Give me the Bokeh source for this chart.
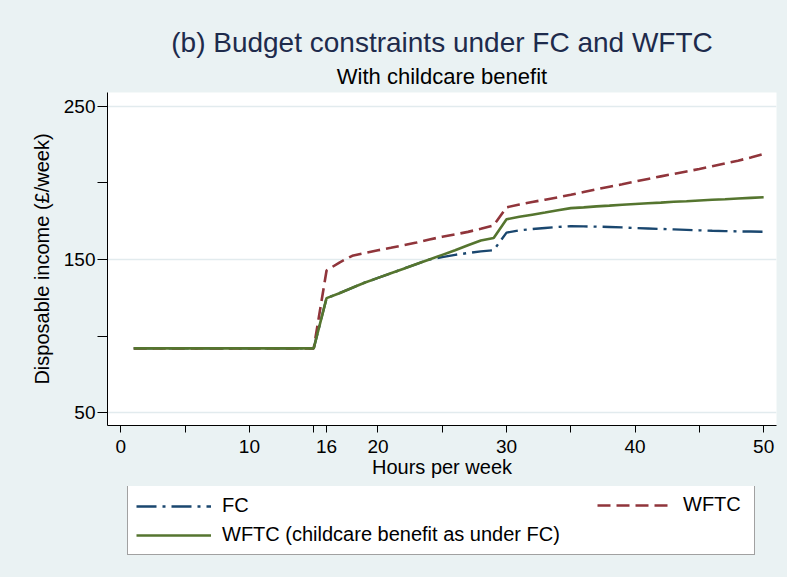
from bokeh.plotting import figure
from bokeh.layouts import column
from bokeh.models import FixedTicker, Legend, LegendItem, Title
from bokeh.embed import file_html
from bokeh.resources import INLINE

# ---- data ----
hours = list(range(1, 51))

fc = [92] * 15 + [
    124.8, 128.0, 131.5, 135.0, 138.0, 141.0, 144.0, 147.0, 150.0,      # 16-24
    151.5, 153.0, 154.2, 155.3, 156.0,                                  # 25-29
    167.5, 169.0, 169.8, 170.5, 171.2, 171.7, 171.6, 171.4, 171.2, 170.9,  # 30-39
    170.5, 170.2, 169.9, 169.6, 169.3, 169.0, 168.7, 168.5, 168.3, 168.2,  # 40-49
    168.1,                                                              # 50
]

wftc = [92] * 15 + [
    142.8, 148.0, 152.4, 154.2, 156.0, 157.6, 159.3, 161.0, 163.0,      # 16-24
    164.8, 166.3, 168.0, 170.0, 172.2,                                  # 25-29
    184.0, 185.8, 187.5, 189.0, 190.5, 192.2, 194.0, 195.8, 197.4, 199.0,  # 30-39
    200.8, 202.5, 204.2, 205.8, 207.4, 209.0, 210.8, 212.6, 214.4, 216.5,  # 40-49
    218.8,                                                              # 50
]

wftc_cb = [92] * 15 + [
    124.8, 128.0, 131.5, 135.0, 138.0, 141.0, 144.0, 147.0, 150.0,      # 16-24
    153.0, 156.0, 159.3, 162.4, 164.0,                                  # 25-29
    176.2, 177.8, 179.2, 180.6, 182.1, 183.5, 184.0, 184.6, 185.1, 185.7,  # 30-39
    186.2, 186.7, 187.1, 187.6, 188.0, 188.5, 188.9, 189.3, 189.8, 190.2,  # 40-49
    190.6,                                                              # 50
]

series_names = ["FC", "WFTC", "WFTC (childcare benefit as under FC)"]

x_ticks = [0, 5, 10, 15, 16, 20, 25, 30, 35, 40, 45, 50]
x_tick_labels = ["0", "", "10", "", "16", "20", "", "30", "", "40", "", "50"]
y_ticks = [50, 100, 150, 200, 250]
y_tick_labels = ["50", "", "150", "", "250"]
y_grid = [50, 150, 250]

title_text = "(b) Budget constraints under FC and WFTC"
subtitle_text = "With childcare benefit"
x_label = "Hours per week"
y_label = "Disposable income (\u00a3/week)"

# ---- styling ----
FONT = "Liberation Sans"
BG = "#EAF2F3"
C_FC = "#1A476F"
C_WFTC = "#90353B"
C_CB = "#55752F"
STY_FC = dict(line_color=C_FC, line_width=2.4, line_dash="20 6 3 6")
STY_WFTC = dict(line_color=C_WFTC, line_width=2.6, line_dash="13 6")
STY_CB = dict(line_color=C_CB, line_width=2.6)

p = figure(
    frame_width=669, frame_height=333,
    min_border_left=107, min_border_right=11, min_border_top=92, min_border_bottom=61,
    x_range=(-1.04, 51.0), y_range=(41.7, 258.9),
    output_backend="svg", toolbar_location=None, title=None,
)
p.border_fill_color = BG
p.background_fill_color = "white"
p.outline_line_color = None

r_fc = p.line(hours, fc, **STY_FC)
r_wftc = p.line(hours, wftc, **STY_WFTC)
r_cb = p.line(hours, wftc_cb, **STY_CB)

# titles
sub = Title(text=subtitle_text, align="center", text_font=FONT, text_font_size="22px",
            text_font_style="normal", text_color="black", standoff=7)
p.add_layout(sub, "above")
main = Title(text=title_text, align="center", text_font=FONT, text_font_size="28px",
             text_font_style="normal", text_color="#1E2B4C", standoff=1)
p.add_layout(main, "above")

# axes
p.xaxis.ticker = FixedTicker(ticks=x_ticks)
p.xaxis.major_label_overrides = dict(zip(x_ticks, x_tick_labels))
p.yaxis.ticker = FixedTicker(ticks=y_ticks)
p.yaxis.major_label_overrides = dict(zip(y_ticks, y_tick_labels))
for ax in (p.xaxis, p.yaxis):
    ax.minor_tick_line_color = None
    ax.major_tick_in = 0
    ax.axis_line_color = "black"
    ax.major_tick_line_color = "black"
    ax.major_label_text_font = FONT
    ax.major_label_text_font_size = "19px"
    ax.major_label_text_color = "black"
    ax.axis_label_text_font = FONT
    ax.axis_label_text_font_size = "20px"
    ax.axis_label_text_font_style = "normal"
    ax.axis_label_text_color = "black"
p.xaxis.axis_label = x_label
p.yaxis.axis_label = y_label
p.xaxis.major_tick_out = 7
p.yaxis.major_tick_out = 10
p.xaxis.major_label_standoff = 7
p.yaxis.major_label_standoff = 2
p.xaxis.axis_label_standoff = 0
p.yaxis.axis_label_standoff = 8

p.xgrid.visible = False
p.ygrid.ticker = FixedTicker(ticks=y_grid)
p.ygrid.grid_line_color = "#E2EBEE"
p.ygrid.grid_line_width = 1.5

# ---- legend strip below the chart (its frame is aligned with the chart's frame) ----
q = figure(width=787, height=91, min_border=0, x_range=(0, 1), y_range=(0, 1),
           output_backend="svg", toolbar_location=None, title=None)
q.border_fill_color = BG
q.background_fill_color = BG
q.outline_line_color = None
q.axis.visible = False
q.grid.visible = False

# same series, lying outside this strip's view: used only for the legend keys
k_fc = q.line(hours, fc, **STY_FC)
k_wftc = q.line(hours, wftc, **STY_WFTC)
k_cb = q.line(hours, wftc_cb, **STY_CB)

common = dict(orientation="vertical", padding=8, spacing=6, margin=0,
              glyph_width=75, glyph_height=20, label_standoff=11, label_height=20,
              label_text_font=FONT, label_text_font_size="20px", label_text_color="black")
leg1 = Legend(
    items=[LegendItem(label=series_names[0], renderers=[k_fc]),
           LegendItem(label=series_names[2], renderers=[k_cb])],
    location=(20, 22), label_width=524,
    border_line_color="#444444", border_line_width=1,
    background_fill_color="white", background_fill_alpha=1.0, **common,
)
leg2 = Legend(
    items=[LegendItem(label=series_names[1], renderers=[k_wftc])],
    location=(490, 61),
    border_line_color=None, background_fill_alpha=0.0, **common,
)
q.add_layout(leg1, "center")
q.add_layout(leg2, "center")

page = column(p, q, spacing=0, styles={"background-color": BG})
open("out.html", "w").write(file_html(page, INLINE))
